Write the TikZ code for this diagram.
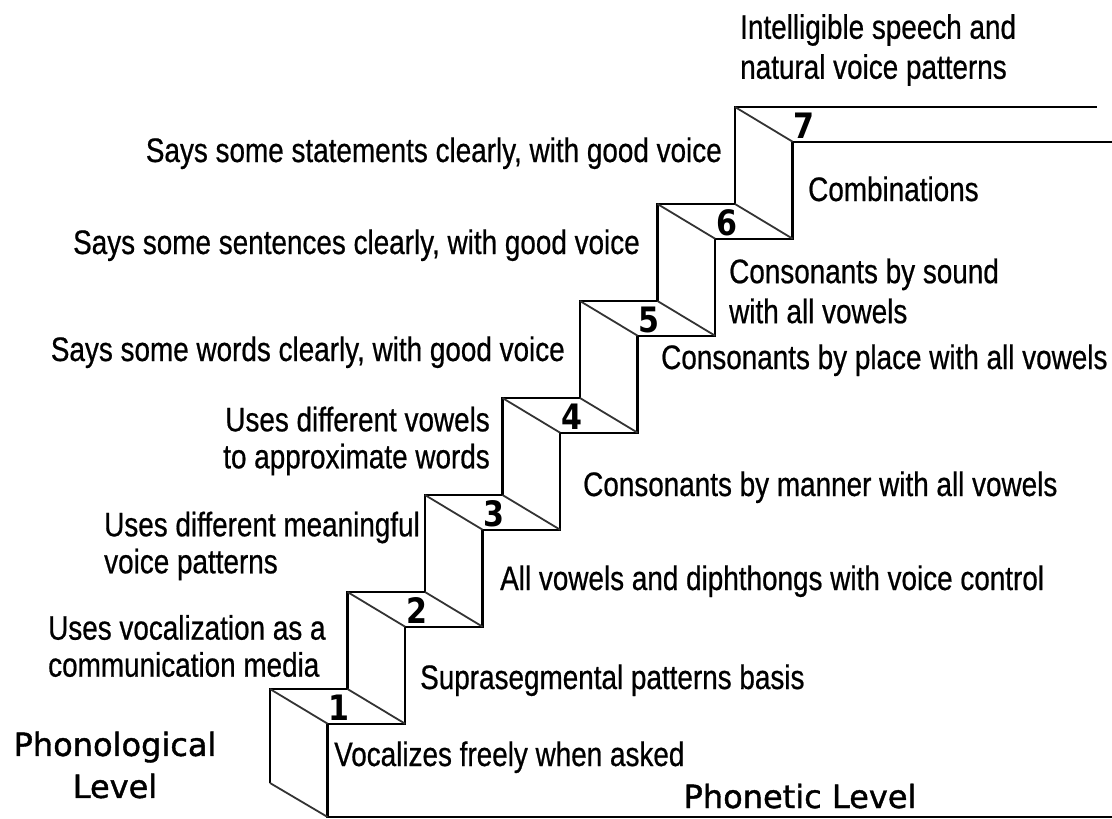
\documentclass[tikz,border=0pt]{standalone}
\usepackage{fontspec}
\setmainfont[FakeStretch=0.82,FakeBold=0.6]{Liberation Sans}
\newfontfamily\dejavu[FakeBold=1.2]{DejaVu Sans}
\newfontfamily\dejavunum[FakeStretch=0.86]{DejaVu Sans}
\usetikzlibrary{calc}
\begin{document}
\begin{tikzpicture}[x=1pt,y=-1pt,
  stair/.style={line width=2.4pt, line join=miter},
  tread/.style={line width=1.8pt, black!80},
  lbl/.style={inner sep=0pt, font=\fontsize{34}{37}\selectfont},
  lbltwo/.style={inner sep=0pt, font=\fontsize{34}{40}\selectfont},
  num/.style={inner sep=0pt, anchor=base west, font=\dejavunum\bfseries\fontsize{35}{35}\selectfont},
  lvl/.style={inner sep=0pt, font=\dejavu\fontsize{32}{42}\selectfont, align=center}]
\useasboundingbox (0,0) rectangle (1112,819);

% stair corner points
\foreach \i in {0,...,6}{
  \coordinate (B\i) at ({270+77.5*\i},{689-97*\i});
  \coordinate (F\i) at ({327.6+77.5*\i},{723.7-97*\i});
}
\coordinate (L0) at (270,783);
\coordinate (L1) at (327.6,817);
\coordinate (BE) at (1097,107);
\coordinate (FE) at (1112,141.7);
\coordinate (BotE) at (1112,817);

% back outline
\draw[stair] (L0) -- (B0) -- (B1|-B0) -- (B1) -- (B2|-B1) -- (B2) -- (B3|-B2) -- (B3)
  -- (B4|-B3) -- (B4) -- (B5|-B4) -- (B5) -- (B6|-B5) -- (B6) -- (BE);
% front outline
\draw[stair] (BotE) -- (L1) -- (F0) -- (F1|-F0) -- (F1) -- (F2|-F1) -- (F2) -- (F3|-F2) -- (F3)
  -- (F4|-F3) -- (F4) -- (F5|-F4) -- (F5) -- (F6|-F5) -- (F6) -- (FE);
% depth edges
\draw[tread] (L0) -- (L1);
\foreach \i in {0,...,6}{ \draw[tread] (B\i) -- (F\i); }
\foreach \i [evaluate=\i as \j using int(\i-1)] in {1,...,6}{ \draw[tread] (B\i|-B\j) -- (F\i|-F\j); }

% step numbers
\foreach \i [evaluate=\i as \n using int(\i+1)] in {0,...,6}{
  \node[num] (n\n) at ($(F\i)+(1,-3)$) {\n};
}

% right-hand labels
\node[lbl, anchor=base west] (r1) at (334,766) {Vocalizes freely when asked};
\node[lbl, anchor=base west] (r2) at (420,689) {Suprasegmental patterns basis};
\node[lbl, anchor=base west] (r3) at (500,590) {All vowels and diphthongs with voice control};
\node[lbl, anchor=base west] (r4) at (583,496) {Consonants by manner with all vowels};
\node[lbl, anchor=base west] (r5) at (661,369) {Consonants by place with all vowels};
\node[lbltwo, anchor=west, align=left] (r6) at (729,291) {Consonants by sound\\with all vowels};
\node[lbl, anchor=base west] (r7) at (808,201) {Combinations};
\node[lbltwo, anchor=west, align=left] (r8) at (740,50) {Intelligible speech and\\natural voice patterns};

% left-hand labels
\node[lbl, anchor=base east] (l7) at (722,162) {Says some statements clearly, with good voice};
\node[lbl, anchor=base east] (l6) at (640,254) {Says some sentences clearly, with good voice};
\node[lbl, anchor=base east] (l5) at (565,361) {Says some words clearly, with good voice};
\node[lbl, anchor=east, align=right] (l4) at (490,441) {Uses different vowels\\to approximate words};
\node[lbl, anchor=west, align=left] (l3) at (104,546) {Uses different meaningful\\voice patterns};
\node[lbl, anchor=west, align=left] (l2) at (48,646) {Uses vocalization as a\\communication media};

% level labels
\node[lvl] (phon) at (115,765) {Phonological\\Level};
\node[lvl, anchor=base] (phonet) at (800,808) {Phonetic Level};
\end{tikzpicture}
\end{document}
